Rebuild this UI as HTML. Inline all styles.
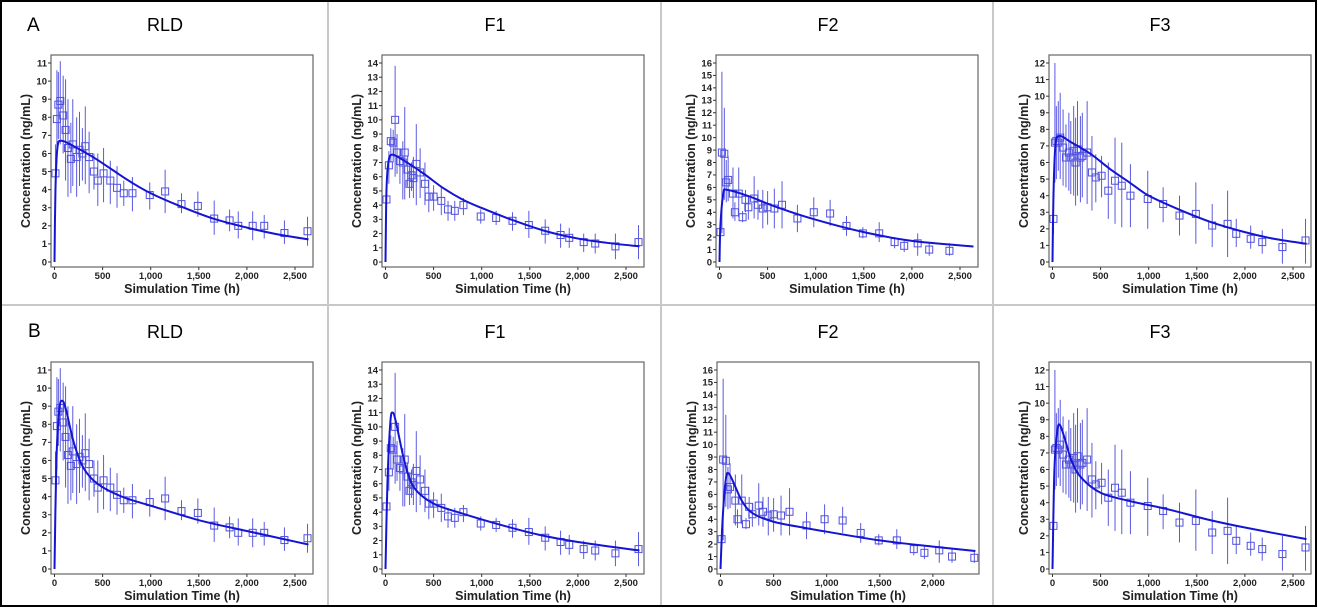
<!DOCTYPE html>
<html><head><meta charset="utf-8"><style>
html,body{margin:0;padding:0;background:#fff}
svg{display:block}
</style></head><body>
<svg id="s" width="1318" height="609" xmlns="http://www.w3.org/2000/svg" font-family="Liberation Sans, Arial, sans-serif"></svg>
<script>
const S=document.getElementById('s');let h='';
h+='<rect x="0" y="0" width="1318" height="609" fill="#fff"/>';
[328,661,993].forEach(x=>h+=`<line x1="${x}" y1="2" x2="${x}" y2="606" stroke="#c8c8c8" stroke-width="2"/>`);
h+='<line x1="2" y1="305" x2="1316" y2="305" stroke="#c8c8c8" stroke-width="2"/>';
h+='<rect x="1" y="1" width="1315" height="605" fill="none" stroke="#000" stroke-width="2"/>';
h+='<text x="27" y="31" font-size="19">A</text><text x="28" y="337" font-size="19">B</text>';
const D={
RLD:[[10,4.9,3.2,6.5],[25,7.9,5.5,10.6],[40,8.7,6.8,10.5],[60,8.9,6.5,11.1],[90,8.1,6,10.3],[115,7.3,4.5,10.1],[140,6.3,3.6,9],[170,5.7,3.8,7.7],[190,6.5,4.2,9],[230,5.8,3.6,8],[260,6.2,4.2,8.3],[290,6.0,4.5,7.4],[320,6.4,4.3,8.6],[360,5.8,3.8,7.2],[410,5.0,4,6],[450,4.5,3.1,6],[510,4.9,3.3,6.3],[580,4.5,3.2,5.6],[650,4.1,3,5.3],[720,3.8,3.1,4.5],[810,3.8,2.8,4.7],[990,3.7,2.9,4.4],[1150,3.9,2.7,5.1],[1320,3.2,2.7,3.8],[1490,3.1,2.5,3.9],[1660,2.4,1.5,3.4],[1820,2.3,1.7,2.9],[1910,2.0,1.3,2.8],[2060,2.0,1.2,2.8],[2180,2.0,1.3,2.6],[2390,1.6,1,2.3],[2630,1.7,0.9,2.5]],
F1:[[10,4.4,3.8,5],[35,6.8,5.5,7.8],[55,8.5,7,9.4],[80,8.4,7,9.3],[100,10,6,13.8],[120,7.7,6.2,9],[150,7.1,5.5,8],[180,7.0,4.4,8.5],[200,7.7,4.4,10.9],[230,6.5,5.3,7.5],[250,5.5,4.5,6.8],[270,6.1,5,7],[290,5.9,4.5,7.4],[320,6.9,4,9.7],[360,6.3,4.5,8],[410,5.5,4,7],[450,4.6,3.5,5.8],[500,4.6,3.6,5.4],[580,4.3,3.3,5.3],[650,3.7,2.9,4.3],[720,3.6,2.9,4.3],[810,4.0,3.3,4.5],[990,3.2,2.7,3.7],[1150,3.1,2.6,3.6],[1320,2.9,2.2,3.5],[1490,2.6,1.7,3.6],[1660,2.2,1.3,3.0],[1820,1.9,1,2.7],[1910,1.7,1,2.4],[2060,1.4,0.7,2],[2180,1.3,0.6,2],[2390,1.1,0.2,2],[2630,1.4,0.2,2.6]],
F2:[[10,2.4,1.8,3.2],[25,8.8,2.3,15.3],[50,8.7,5,12.4],[70,6.4,4.8,8.2],[90,6.6,4.9,8.5],[140,5.5,3.5,7.6],[160,4.0,3.3,4.8],[200,5.5,3.6,7.6],[240,3.6,3.2,4.1],[270,5.0,4,5.8],[300,4.4,3.4,5.3],[360,5.1,3.5,6.9],[400,4.6,3.4,5.8],[450,4.3,2.7,5.8],[500,4.4,3,5.7],[570,4.3,2.7,5.9],[650,4.6,2.7,6.5],[810,3.5,2.4,4.6],[980,4.0,2.8,5.2],[1150,3.9,2.9,5],[1320,2.9,2.1,3.7],[1490,2.3,1.9,2.8],[1660,2.3,1.6,3.2],[1820,1.6,1.1,2.0],[1920,1.3,0.8,1.8],[2060,1.5,0.5,2.3],[2180,1.0,0.5,1.6],[2390,0.9,0.5,1.5]],
F3:[[10,2.6,1.7,5.2],[25,7.2,4.8,12],[40,7.3,5,9.4],[60,7.2,5.5,9.7],[80,7.5,5,10.2],[110,6.9,4.6,9.2],[140,6.3,4.5,8.3],[170,6.6,4.3,9.0],[190,6.3,4.1,8.5],[220,6.7,4,9.4],[240,6.0,3.4,8.7],[260,6.8,4,9.7],[290,6.3,3.6,8.8],[310,6.4,3.9,9],[360,6.6,3.5,9.7],[410,5.4,3.1,7.6],[450,5.1,3.6,6.5],[510,5.2,3.9,6.4],[580,4.3,2.6,6],[650,4.9,2.3,7.5],[720,4.6,2.1,7.2],[810,4.0,2.1,5.9],[990,3.8,2.0,5.5],[1150,3.5,2.4,4.5],[1320,2.8,1.6,4],[1490,2.9,1.1,4.8],[1660,2.2,0.9,3.5],[1820,2.3,0.3,4.3],[1910,1.7,0.9,2.6],[2060,1.4,0.8,2.2],[2180,1.2,0.5,1.9],[2390,0.9,-0.1,2],[2630,1.3,-0.1,2.6]]};
const P=[
{n:'RLD',cx:0,L:51,T:55,ym:11,xr:2687,xt:2500,c:[[0,0],[10,4],[30,6.3],[70,6.7],[200,6.4],[400,5.8],[600,5.1],[800,4.4],[1000,3.8],[1300,3.1],[1650,2.4],[2000,1.9],[2300,1.55],[2640,1.25]]},
{n:'F1',cx:330,L:382,T:55,ym:14,xr:2687,xt:2500,c:[[0,0],[10,5],[30,7],[70,7.55],[200,7.1],[400,6.2],[600,5.2],[800,4.4],[1000,3.8],[1300,3.0],[1650,2.2],[2000,1.65],[2300,1.35],[2640,1.1]]},
{n:'F2',cx:663,L:716,T:55,ym:16,xr:2687,xt:2500,c:[[0,0],[10,3],[40,5.5],[80,5.8],[300,5.3],[600,4.4],[1000,3.4],[1500,2.4],[2000,1.7],[2640,1.25]]},
{n:'F3',cx:995,L:1049,T:55,ym:12,xr:2687,xt:2500,c:[[0,0],[10,4],[30,7],[70,7.6],[200,7.2],[400,6.5],[600,5.6],[800,4.8],[1000,4.0],[1300,3.2],[1650,2.4],[2000,1.8],[2300,1.4],[2640,1.1]]},
{n:'RLD',cx:0,L:51,T:362,ym:11,xr:2687,xt:2500,c:[[0,0],[20,6],[50,8.8],[80,9.3],[120,8.8],[200,7],[300,5.6],[450,4.7],[700,4.0],[1000,3.5],[1500,2.7],[2000,2.1],[2640,1.35]]},
{n:'F1',cx:330,L:382,T:362,ym:14,xr:2687,xt:2500,c:[[0,0],[20,6],[50,10.3],[75,11],[110,10.3],[200,7.5],[300,5.7],[500,4.6],[800,3.9],[1200,3.1],[1600,2.4],[2000,1.9],[2640,1.3]]},
{n:'F2',cx:663,L:717,T:362,ym:16,xr:2434,xt:2000,c:[[0,0],[20,4],[50,7.2],[75,7.7],[120,7],[200,5.5],[300,4.5],[500,3.8],[800,3.3],[1000,3.0],[1500,2.3],[2000,1.8],[2400,1.45]]},
{n:'F3',cx:995,L:1049,T:362,ym:12,xr:2687,xt:2500,c:[[0,0],[20,6],[50,8.3],[75,8.7],[120,8],[200,6.5],[300,5.5],[500,4.6],[800,4.1],[1200,3.6],[1600,3.0],[2000,2.5],[2640,1.8]]}];
function fmt(v){return v>=1000?(Math.floor(v/1000)+','+String(v%1000).padStart(3,'0')):String(v);}
P.forEach(p=>{
 const W=262,H=212,L=p.L,T=p.T,B=T+H,y0=B-5,yt=T+8;
 const ys=(y0-yt)/p.ym,x0=L+3.5,xs=(W-3.5)/p.xr;
 const X=t=>x0+t*xs,Y=v=>y0-v*ys;
 h+=`<text x="${p.cx+165}" y="${T-24}" font-size="18" text-anchor="middle">${p.n}</text>`;
 h+=`<rect x="${L}" y="${T}" width="${W}" height="${H}" fill="#fff" stroke="#666" stroke-width="1.2"/>`;
 for(let v=0;v<=p.ym;v++){const y=Y(v);h+=`<line x1="${L-3}" y1="${y}" x2="${L}" y2="${y}" stroke="#333"/><text x="${L-4}" y="${y+3.3}" font-size="9.5" font-weight="bold" text-anchor="end" fill="#222">${v}</text>`;}
 for(let t=0;t<=p.xt;t+=500){const x=X(t);h+=`<line x1="${x}" y1="${B}" x2="${x}" y2="${B+3}" stroke="#333"/><text x="${x}" y="${B+12}" font-size="9.5" font-weight="bold" text-anchor="middle" fill="#222">${fmt(t)}</text>`;}
 h+=`<text x="${L+W/2}" y="${B+26}" font-size="12.5" font-weight="bold" text-anchor="middle" fill="#222">Simulation Time (h)</text>`;
 const cyy=(T+B)/2,lx=L-21;
 h+=`<text transform="translate(${lx},${cyy}) rotate(-90)" font-size="12.5" font-weight="bold" text-anchor="middle" fill="#222">Concentration (ng/mL)</text>`;
 const d=D[p.n];
 d.forEach(q=>{if(q[0]>p.xr)return;const x=X(q[0]);h+=`<line x1="${x}" y1="${Y(Math.max(q[2],-0.1))}" x2="${x}" y2="${Y(Math.min(q[3],p.ym+0.4))}" stroke="#5a5ae0" stroke-width="1"/>`;});
 d.forEach(q=>{if(q[0]>p.xr)return;const x=X(q[0]),y=Y(q[1]);h+=`<rect x="${x-3.5}" y="${y-3.5}" width="7" height="7" fill="none" stroke="#5050e0" stroke-width="1"/>`;});
 const c=p.c.map(a=>[X(a[0]),Y(a[1])]);
 let s=`M${c[0][0]},${c[0][1]}`;
 for(let i=0;i<c.length-1;i++){const p0=c[Math.max(i-1,0)],p1=c[i],p2=c[i+1],p3=c[Math.min(i+2,c.length-1)];
  s+=` C${p1[0]+(p2[0]-p0[0])/6},${p1[1]+(p2[1]-p0[1])/6} ${p2[0]-(p3[0]-p1[0])/6},${p2[1]-(p3[1]-p1[1])/6} ${p2[0]},${p2[1]}`;}
 h+=`<path d="${s}" fill="none" stroke="#1414d2" stroke-width="2"/>`;
});
S.innerHTML=h;
</script>
</body></html>
